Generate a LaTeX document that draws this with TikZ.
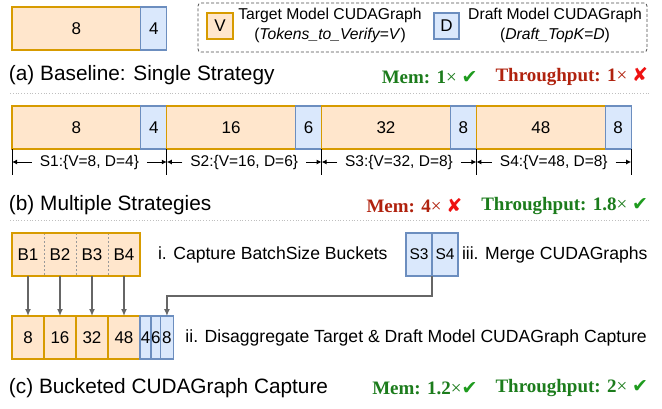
\documentclass[tikz,border=0pt]{standalone}
\usepackage{fontspec}
\setmainfont{Liberation Sans}
\newfontfamily\metricfont{Liberation Serif}
\newfontfamily\markfont{DejaVu Sans}
\usetikzlibrary{positioning, arrows.meta}

\definecolor{targetfill}{HTML}{FFE6CC}
\definecolor{targetline}{HTML}{D79B00}
\definecolor{draftfill}{HTML}{DAE8FC}
\definecolor{draftline}{HTML}{6C8EBF}
\definecolor{okgreen}{HTML}{1C7C1C}
\definecolor{okmarkgreen}{HTML}{1E9B1E}
\definecolor{failred}{HTML}{B0220E}
\definecolor{failmarkred}{HTML}{EE1111}
\definecolor{wiregray}{HTML}{666666}

\newcommand{\okmark}{{\markfont\color{okmarkgreen}✔}}
\newcommand{\failmark}{{\markfont\color{failmarkred}✘}}
\newcommand{\timessign}{{\mdseries ×}}

\begin{document}
\begin{tikzpicture}[x=1pt,y=-1pt]

\def\vw{128.8}
\def\dw{26}
\def\bh{43}

\tikzset{
    every node/.style={font=\fontsize{17}{20}\selectfont, inner sep=0pt, outer sep=0pt},
    target/.style={draw=targetline, fill=targetfill, line width=1.2pt, minimum width=\vw pt, minimum height=\bh pt},
    draft/.style={draw=draftline, fill=draftfill, line width=1.2pt, minimum width=\dw pt, minimum height=\bh pt},
    bucket/.style={fill=targetfill, minimum width=32pt, minimum height=\bh pt},
    bucket sep/.style={draw=black!40, line width=.6pt, dash pattern=on 2pt off 2pt},
    caption/.style={font=\fontsize{20.8}{24}\selectfont, anchor=west},
    note/.style={font=\fontsize{17.6}{21}\selectfont},
    dim/.style={font=\fontsize{15.5}{18}\selectfont, inner xsep=8pt},
    dim wire/.style={-{Latex[length=5pt, width=5pt]}, draw, line width=1pt},
    tick/.style={draw, line width=.9pt},
    wire/.style={-{Latex[length=7pt, width=6pt]}, draw=wiregray, line width=1.3pt},
    metric/.style={font=\metricfont\bfseries\fontsize{19}{22}\selectfont},
    good/.style={metric, text=okgreen},
    bad/.style={metric, text=failred},
    divider/.style={draw=black!25, dotted, line width=.8pt}
}

\useasboundingbox (0,0) rectangle (662,408);

% baseline strategy and legend
\node[target, anchor=north west] (BASE V) at (12,7) {8};
\node[draft, right=0pt of BASE V] (BASE D) {4};

\node[draw=black!70, dashed, dash pattern=on 3pt off 2pt, rounded corners=3pt, line width=.8pt,
      minimum width=449pt, minimum height=49pt, anchor=north west] (LEGEND) at (198,3) {};
\node[target, minimum width=26pt, minimum height=26pt] (KEY V) at (220,26) {V};
\node[align=center, font=\fontsize{15.7}{20}\selectfont] (KEY V TEXT) at (330,25)
    {Target Model CUDAGraph\\(\textit{Tokens\_to\_Verify=V})};
\node[draft, minimum width=25pt, minimum height=26pt] (KEY D) at (446.5,26) {D};
\node[align=center, font=\fontsize{15.7}{20}\selectfont] (KEY D TEXT) at (555,25)
    {Draft Model CUDAGraph\\(\textit{Draft\_TopK=D})};

\node[caption] (CAP A) at (9,75) {(a) Baseline: Single Strategy};
\node[bad, anchor=east] (TP A) at (648,77) {Throughput: 1\timessign{} \failmark};
\node[good, left=18pt of TP A] (MEM A) {Mem: 1\timessign{} \okmark};

\draw[divider] (10,93) -- (650,93);

% multiple strategies
\foreach \v/\d [count=\i] in {8/4, 16/6, 32/8, 48/8} {
    \node[target, anchor=north west] (S\i V) at ({12+154.8*(\i-1)},106) {\v};
    \node[draft, right=0pt of S\i V] (S\i D) {\d};
    \coordinate (K\i) at ({12+154.8*(\i-1)},162);
}
\coordinate (K5) at (631.2,162);
\foreach \i in {1,...,5}
    \path[tick] (K\i) ++(0,-13) -- ++(0,26);

\foreach \v/\d [count=\i] in {8/4, 16/6, 32/8, 48/8} {
    \pgfmathtruncatemacro\n{\i+1}
    \node[dim] (L\i) at ({12+154.8*(\i-1)+77.4},162) {S\i:\{V=\v, D=\d\}};
    \path[dim wire] (L\i.west) -- (K\i);
    \path[dim wire] (L\i.east) -- (K\n);
}

\node[caption] (CAP B) at (9,205) {(b) Multiple Strategies};
\node[good, anchor=east] (TP B) at (648,206) {Throughput: 1.8\timessign{} \okmark};
\node[bad, left=19pt of TP B] (MEM B) {Mem: 4\timessign{} \failmark};

\draw[divider] (10,220) -- (650,220);

% bucketed capture
\node[bucket, anchor=north west] (B1) at (12,233) {B1};
\foreach \i [count=\p] in {2,3,4}
    \node[bucket, right=0pt of B\p] (B\i) {B\i};
\foreach \p in {1,2,3}
    \path[bucket sep] (B\p.north east) -- (B\p.south east);
\draw[targetline, line width=1.2pt] (B1.north west) rectangle (B4.south east);
\node[note, right=18pt of B4] (NOTE I) {i. Capture BatchSize Buckets};

\node[draft, anchor=north west, font=\fontsize{15.5}{18}\selectfont] (M3) at (406,233) {S3};
\node[draft, right=0pt of M3, font=\fontsize{15.5}{18}\selectfont] (M4) {S4};
\node[note, right=4pt of M4] (NOTE III) {iii. Merge CUDAGraphs};

\node[target, minimum width=32pt, anchor=north west] (C1) at (12,316) {8};
\foreach \v/\i/\p in {16/2/1, 32/3/2, 48/4/3}
    \node[target, minimum width=32pt, right=0pt of C\p] (C\i) {\v};
\node[draft, minimum width=11pt, right=0pt of C4] (E1) {4};
\node[draft, minimum width=9pt, right=0pt of E1] (E2) {6};
\node[draft, minimum width=13pt, right=0pt of E2] (E3) {8};
\node[note, right=12pt of E3] (NOTE II) {ii. Disaggregate Target \& Draft Model CUDAGraph Capture};

\foreach \i in {1,...,4}
    \path[wire] (B\i.south) -- (C\i.north);
\path[wire] (M3.south east) -- ++(0,20) -| (E3.north);

\node[caption] (CAP C) at (9,388) {(c) Bucketed CUDAGraph Capture};
\node[good, anchor=east] (TP C) at (648,388) {Throughput: 2\timessign{} \okmark};
\node[good, left=18pt of TP C] (MEM C) {Mem: 1.2\timessign\okmark};

\end{tikzpicture}
\end{document}
